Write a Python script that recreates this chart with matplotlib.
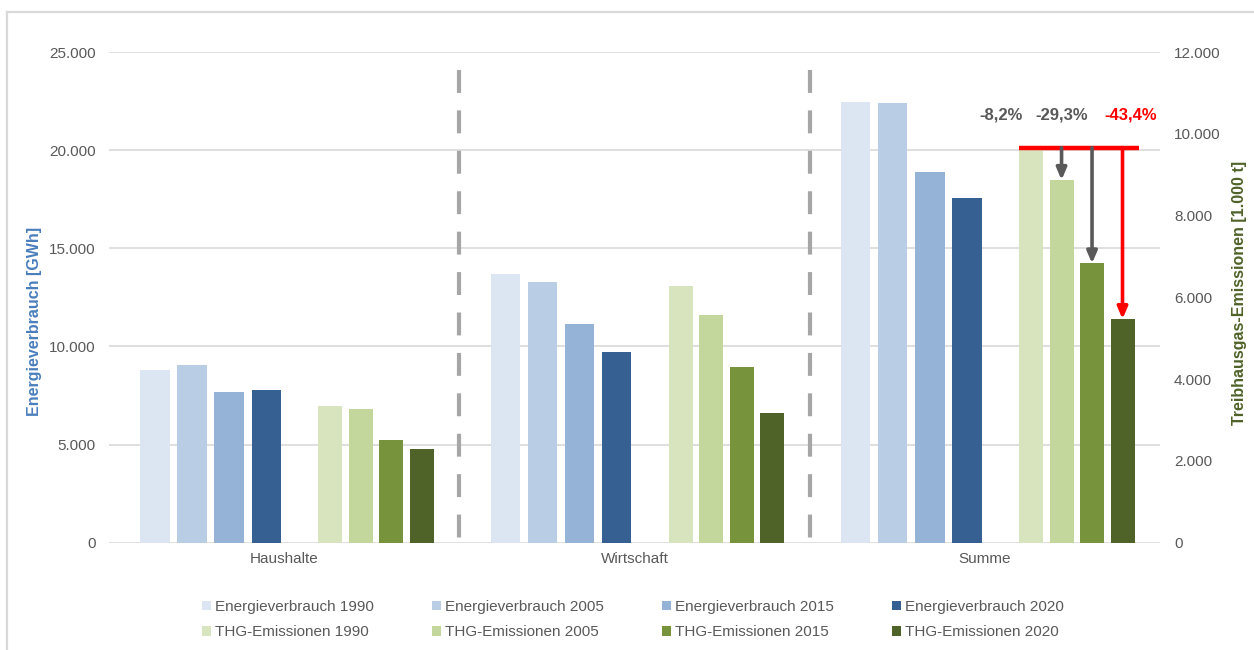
import matplotlib
matplotlib.use("Agg")
import matplotlib.pyplot as plt
from matplotlib.ticker import FuncFormatter
from matplotlib.lines import Line2D
from matplotlib.patches import Patch
import numpy as np

plt.rcParams['font.family'] = ['Liberation Sans', 'DejaVu Sans']

categories = ["Haushalte", "Wirtschaft", "Summe"]

# Energieverbrauch [GWh]
energy_labels = ["Energieverbrauch 1990", "Energieverbrauch 2005",
                 "Energieverbrauch 2015", "Energieverbrauch 2020"]
energy_1990 = [8790, 13680, 22460]
energy_2005 = [9050, 13290, 22380]
energy_2015 = [7690, 11130, 18880]
energy_2020 = [7770, 9700, 17550]

# Treibhausgas-Emissionen [1.000 t]
thg_labels = ["THG-Emissionen 1990", "THG-Emissionen 2005",
              "THG-Emissionen 2015", "THG-Emissionen 2020"]
thg_1990 = [3340, 6280, 9660]
thg_2005 = [3280, 5560, 8870]
thg_2015 = [2520, 4300, 6830]
thg_2020 = [2290, 3160, 5470]

change_labels = ["-8,2%", "-29,3%", "-43,4%"]

energy_colors = ["#dce6f2", "#b9cde5", "#95b3d7", "#376092"]
thg_colors = ["#d7e4bd", "#c3d69b", "#77933c", "#4f6228"]
text_gray = "#595959"
grid_gray = "#d9d9d9"

energy_series = [energy_1990, energy_2005, energy_2015, energy_2020]
thg_series = [thg_1990, thg_2005, thg_2015, thg_2020]

fig = plt.figure(figsize=(12.54, 6.5), dpi=100)
ax = fig.add_axes([109 / 1254, 1 - 542.7 / 650, (1160 - 109) / 1254, (542.7 - 52) / 650])
ax2 = ax.twinx()

x = np.arange(len(categories))
e_w, e_pitch = 0.084, 0.106
t_w, t_pitch = 0.0685, 0.087

for i, (vals, col) in enumerate(zip(energy_series, energy_colors)):
    ax.bar(x - 0.051 - e_pitch * (3 - i), vals, width=e_w, color=col,
           edgecolor="none", zorder=3)
for i, (vals, col) in enumerate(zip(thg_series, thg_colors)):
    ax2.bar(x + 0.132 + t_pitch * i, vals, width=t_w, color=col,
            edgecolor="none", zorder=3)

ax.set_xlim(-0.5, 2.5)
ax.set_ylim(0, 25000)
ax2.set_ylim(0, 12000)
ax.set_yticks(np.arange(0, 25001, 5000))
ax2.set_yticks(np.arange(0, 12001, 2000))

fmt = FuncFormatter(lambda v, p: f"{int(v):,}".replace(",", "."))
ax.yaxis.set_major_formatter(fmt)
ax2.yaxis.set_major_formatter(fmt)

ax.set_xticks(x)
ax.set_xticklabels(categories)
ax.yaxis.grid(True, color=grid_gray, lw=1.2, zorder=0)
ax.set_axisbelow(True)
for a in (ax, ax2):
    for s in a.spines.values():
        s.set_visible(False)
    a.tick_params(length=0, labelsize=11, labelcolor=text_gray)
ax.tick_params(axis="y", pad=9.5)
ax2.tick_params(axis="y", pad=10)
ax.tick_params(axis="x", pad=7)

ax.set_ylabel("Energieverbrauch [GWh]", color="#4a7ebb", fontsize=11.5,
              fontweight="bold")
ax.yaxis.set_label_coords(-0.0637, 0.45)
ax2.set_ylabel("Treibhausgas-Emissionen [1.000 t]", color="#4f6228", fontsize=11.5,
               fontweight="bold", rotation=90)
ax2.yaxis.set_label_coords(1.0685, 0.51)

# dashed separators between the groups
for xs in (0.5, 1.5):
    ax.plot([xs, xs], [24100, -280], color="#a6a6a6", lw=3,
            dashes=(5.5, 4.2), clip_on=False, zorder=4)

# reduction markers for the total
base = thg_1990[2]
x1990 = 2 + 0.132
xs_t = [2 + 0.132 + t_pitch * i for i in range(4)]
ax2.plot([x1990 - t_w / 2, xs_t[3] + 0.046], [base, base], color="#ff0000",
         lw=3.2, solid_capstyle="butt", zorder=6)
arrow_cols = [text_gray, text_gray, "#ff0000"]
targets = [thg_2005[2], thg_2015[2], thg_2020[2]]
for xi, top, col in zip(xs_t[1:], targets, arrow_cols):
    ax2.annotate("", xy=(xi, top), xytext=(xi, base),
                 arrowprops=dict(arrowstyle="-|>,head_length=0.7,head_width=0.3",
                                 color=col, lw=2.6, shrinkA=0, shrinkB=0,
                                 mutation_scale=10),
                 zorder=7)
label_x = [2.046, 2.218, 2.415]
label_cols = [text_gray, text_gray, "#ff0000"]
for lx, txt, col in zip(label_x, change_labels, label_cols):
    ax2.text(lx, 10450, txt, color=col, fontsize=12, fontweight="bold",
             ha="center", va="center", zorder=8)

# legend, filled row by row: energy entries on top, emissions below
handles = []
for e_lab, e_col, t_lab, t_col in zip(energy_labels, energy_colors,
                                      thg_labels, thg_colors):
    handles.append(Patch(facecolor=e_col, edgecolor="none", label=e_lab))
    handles.append(Patch(facecolor=t_col, edgecolor="none", label=t_lab))
leg = fig.legend(handles=handles, ncol=4, loc="center",
                 bbox_to_anchor=(633 / 1254, 1 - 619.5 / 650), frameon=False,
                 fontsize=11, handlelength=0.6, handleheight=0.6,
                 handletextpad=0.25, columnspacing=3.8, labelspacing=0.75)
for t in leg.get_texts():
    t.set_color(text_gray)

# outer frame lines (top and left)
fig.add_artist(Line2D([7 / 1254, 1.0], [1 - 12 / 650, 1 - 12 / 650],
                      transform=fig.transFigure, color=grid_gray, lw=1.6))
fig.add_artist(Line2D([7 / 1254, 7 / 1254], [0, 1 - 12 / 650],
                      transform=fig.transFigure, color=grid_gray, lw=1.6))

fig.savefig("out.png", dpi=100)
